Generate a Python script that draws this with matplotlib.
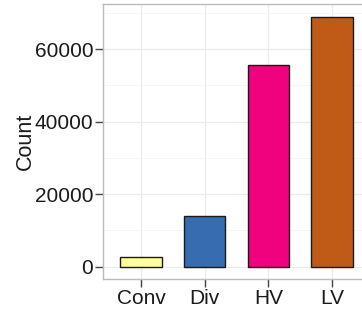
import numpy as np
import matplotlib.pyplot as plt
from matplotlib.ticker import MultipleLocator

# category counts
groups = ["Conv", "Div", "HV", "LV"]
counts = [2500, 13900, 55600, 68900]
colors = ["#FFFF99", "#386CB0", "#F0027F", "#BF5B17"]

plt.rcParams['font.family'] = ['Liberation Sans', 'DejaVu Sans']

fig = plt.figure(figsize=(3.62, 3.15), dpi=100)
# panel runs past the right edge, like the cropped original
ax = fig.add_axes([0.2845, 0.1143, 0.738, 0.872])

x = np.arange(len(groups))
ax.bar(x, counts, width=0.65, color=colors, edgecolor="#1a1a1a", linewidth=1.0, zorder=3)

ymax = max(counts)
ax.set_xlim(-0.6, len(groups) - 0.4)
ax.set_ylim(-0.05 * ymax, 1.05 * ymax)

ax.yaxis.set_major_locator(MultipleLocator(20000))
ax.yaxis.set_minor_locator(MultipleLocator(10000))
ax.set_xticks(x)
ax.set_xticklabels(groups)

ax.grid(which="major", color="#ebebeb", linewidth=0.9, zorder=0)
ax.grid(which="minor", axis="y", color="#f4f4f4", linewidth=0.6, zorder=0)
ax.tick_params(which="minor", length=0)
ax.tick_params(which="major", length=5.5, width=1, color="#444444",
               labelsize=15, labelcolor="#1a1a1a", pad=1.5)

for s in ax.spines.values():
    s.set_color("#bbbbbb")
    s.set_linewidth(1.0)

fig.text(25 / 362, 1 - 141 / 315, "Count", rotation=90, ha="center", va="center",
         fontsize=15.5, color="#1a1a1a")

fig.savefig("out.png", dpi=100)
